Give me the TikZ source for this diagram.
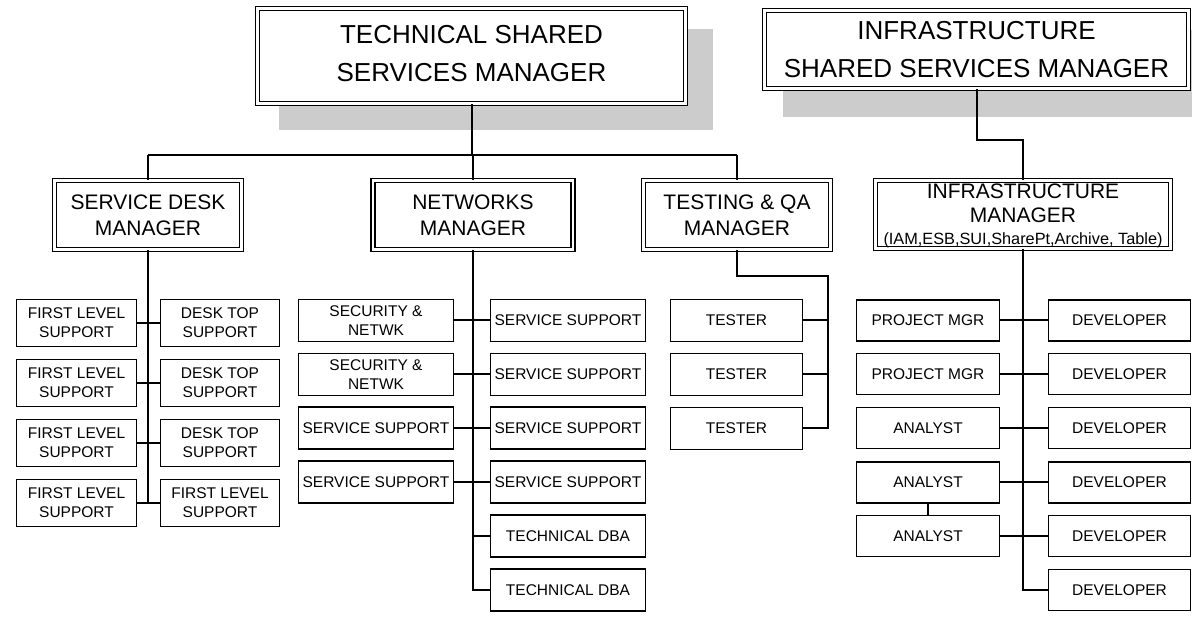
\documentclass[tikz,border=0pt]{standalone}
\usepackage{fontspec}
\setmainfont{Liberation Sans}
\begin{document}
\begin{tikzpicture}[x=1pt,y=-1pt,
  shadowfill/.style={fill=black!20,draw=none},
  topbox/.style={draw,fill=white,double,line width=1.7pt,double distance=2.2pt,
    inner sep=0pt,align=center,font=\fontsize{26}{38}\selectfont},
  mgrbox/.style={draw,fill=white,double,line width=1.6pt,double distance=2.1pt,
    inner sep=0pt,align=center,font=\fontsize{21}{26}\selectfont},
  staffbox/.style={draw,fill=white,line width=1.7pt,inner sep=0pt,align=center,
    font=\fontsize{15.5}{19}\selectfont},
  link/.style={draw,line width=2pt}]
\clip (0,0) rectangle (1192,617);
\useasboundingbox (0,0) rectangle (1192,617);

% drop shadows of the two heads
\fill[shadowfill] (279,29) rectangle (713,130);
\fill[shadowfill] (783,30) rectangle (1215,117);

% heads of the two units
\node[topbox,minimum width=428pt,minimum height=95pt] (tssm) at (471.5,56)
  {TECHNICAL SHARED\\SERVICES MANAGER\rule[-5pt]{0pt}{5pt}};
\node[topbox,minimum width=424pt,minimum height=78pt] (issm) at (976.5,49.5)
  {INFRASTRUCTURE\\SHARED SERVICES MANAGER};

% managers
\node[mgrbox,minimum width=187pt,minimum height=69pt] (sdm) at (148,215)
  {SERVICE DESK\\MANAGER};
\node[mgrbox,minimum width=200pt,minimum height=69pt] (nm) at (473,215)
  {NETWORKS\\MANAGER};
\node[mgrbox,minimum width=187pt,minimum height=69pt] (tqa) at (737,215)
  {TESTING \& QA\\MANAGER};
\node[mgrbox,minimum width=295pt,minimum height=68pt,font=\fontsize{21}{24.5}\selectfont] (im) at (1023,214.5)
  {\rule{0pt}{17.5pt}INFRASTRUCTURE\\MANAGER\\[-2.5pt]{\fontsize{16.3}{19}\selectfont(IAM,ESB,SUI,SharePt,Archive, Table)}};

% service desk staff
\tikzset{sdL/.style={staffbox,minimum width=120pt,minimum height=47pt},
         sdR/.style={staffbox,minimum width=119pt,minimum height=47pt}}
\node[sdL] (sdl1) at (76.5,323) {FIRST LEVEL\\SUPPORT};
\node[sdL] (sdl2) at (76.5,383) {FIRST LEVEL\\SUPPORT};
\node[sdL] (sdl3) at (76.5,443) {FIRST LEVEL\\SUPPORT};
\node[sdL] (sdl4) at (76.5,503) {FIRST LEVEL\\SUPPORT};
\node[sdR] (sdr1) at (220,323) {DESK TOP\\SUPPORT};
\node[sdR] (sdr2) at (220,383) {DESK TOP\\SUPPORT};
\node[sdR] (sdr3) at (220,443) {DESK TOP\\SUPPORT};
\node[sdR] (sdr4) at (220,503) {FIRST LEVEL\\SUPPORT};

% networks staff
\tikzset{nwbox/.style={staffbox,minimum width=155pt,minimum height=42pt}}
\node[nwbox] (nwl1) at (376,320.5) {SECURITY \&\\NETWK};
\node[nwbox] (nwl2) at (376,374.5) {SECURITY \&\\NETWK};
\node[nwbox] (nwl3) at (376,428) {SERVICE SUPPORT};
\node[nwbox] (nwl4) at (376,482) {SERVICE SUPPORT};
\node[nwbox] (nwr1) at (568,320.5) {SERVICE SUPPORT};
\node[nwbox] (nwr2) at (568,374.5) {SERVICE SUPPORT};
\node[nwbox] (nwr3) at (568,428) {SERVICE SUPPORT};
\node[nwbox] (nwr4) at (568,482) {SERVICE SUPPORT};
\node[nwbox] (nwr5) at (568,536) {TECHNICAL DBA};
\node[nwbox] (nwr6) at (568,590) {TECHNICAL DBA};

% testers
\tikzset{tsbox/.style={staffbox,minimum width=132pt,minimum height=42pt}}
\node[tsbox] (ts1) at (736.5,320.5) {TESTER};
\node[tsbox] (ts2) at (736.5,374.5) {TESTER};
\node[tsbox] (ts3) at (736.5,428.5) {TESTER};

% infrastructure staff
\tikzset{inbox/.style={staffbox,minimum width=143pt,minimum height=41pt},
         dvbox/.style={staffbox,minimum width=142pt,minimum height=41pt}}
\node[inbox] (inl1) at (928,320.5) {PROJECT MGR};
\node[inbox] (inl2) at (928,374) {PROJECT MGR};
\node[inbox] (inl3) at (928,428) {ANALYST};
\node[inbox] (inl4) at (928,482.5) {ANALYST};
\node[inbox] (inl5) at (928,536) {ANALYST};
\node[dvbox] (inr1) at (1119.5,320.5) {DEVELOPER};
\node[dvbox] (inr2) at (1119.5,374) {DEVELOPER};
\node[dvbox] (inr3) at (1119.5,428) {DEVELOPER};
\node[dvbox] (inr4) at (1119.5,482.5) {DEVELOPER};
\node[dvbox] (inr5) at (1119.5,536) {DEVELOPER};
\node[dvbox] (inr6) at (1119.5,590) {DEVELOPER};

% reporting lines of the technical unit
\coordinate (busL) at (148,155);
\coordinate (busR) at (737,155);
\path[link] (busL) -- (busR);
\path[link] (tssm.south) -- (tssm.south |- busL);
\path[link] (busL) -- (sdm.north);
\path[link] (nm.north |- busL) -- (nm.north);
\path[link] (busR) -- (tqa.north);

% service desk spine
\path[link] (sdm.south) -- (sdm.south |- sdl4.east);
\foreach \i in {1,...,4} \path[link] (sdl\i.east) -- (sdr\i.west);

% networks spine
\path[link] (nm.south) -- (nm.south |- nwr6.west) -- (nwr6.west);
\foreach \i in {1,...,4} \path[link] (nwl\i.east) -- (nwr\i.west);
\path[link] (nm.south |- nwr5.west) -- (nwr5.west);

% testing spine
\coordinate (tqaTurn) at (828,276);
\path[link] (tqa.south) |- (tqaTurn) -- (tqaTurn |- ts3.east) -- (ts3.east);
\path[link] (ts1.east) -- (ts1.east -| tqaTurn);
\path[link] (ts2.east) -- (ts2.east -| tqaTurn);

% infrastructure unit
\coordinate (jog) at (1000,140);
\path[link] (issm.south) |- (jog) -| (im.north);
\path[link] (im.south) -- (im.south |- inr6.west) -- (inr6.west);
\foreach \i in {1,...,5} \path[link] (inl\i.east) -- (inr\i.west);
\path[link] (inl4.south) -- (inl5.north);
\end{tikzpicture}
\end{document}
